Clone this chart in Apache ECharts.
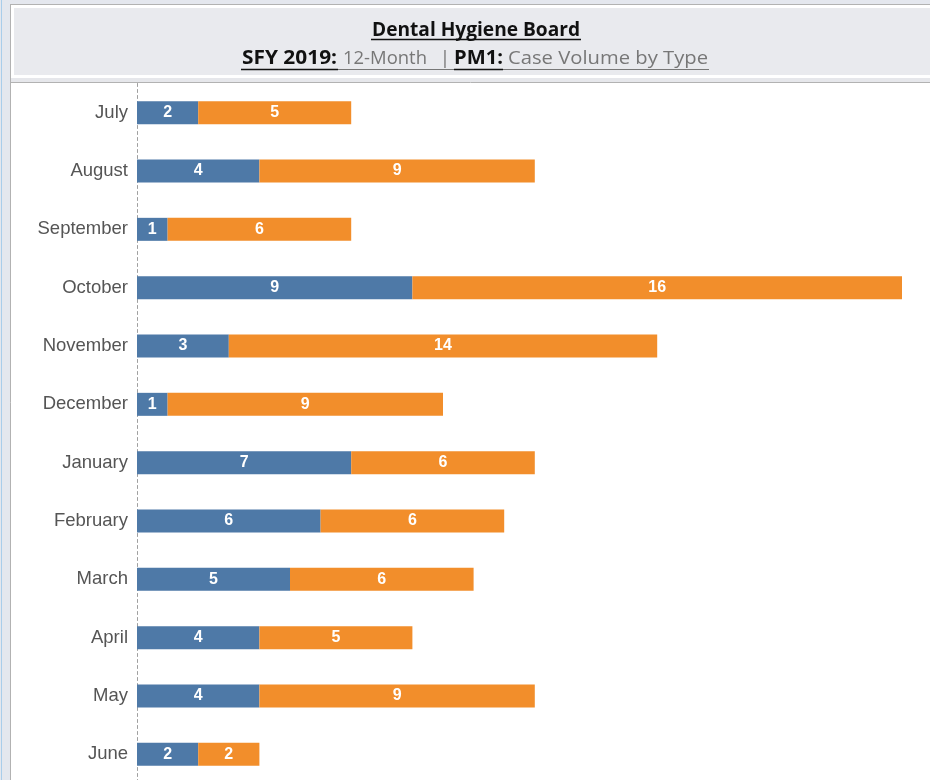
<!DOCTYPE html>
<html><head><meta charset="utf-8">
<script src="https://cdn.jsdelivr.net/npm/echarts@6/dist/echarts.min.js"></script>
<style>html,body{margin:0;padding:0;background:#fff;overflow:hidden}#c{width:930px;height:800px}</style>
</head><body><div id="c"></div>
<script>
const months = ['July','August','September','October','November','December','January','February','March','April','May','June'];
const typeA = [2,4,1,9,3,1,7,6,5,4,4,2];
const typeB = [5,9,6,16,14,9,6,6,6,5,9,2];
const titleText = 'Dental Hygiene Board';
const subParts = ['SFY 2019:', '12-Month', '|', 'PM1:', 'Case Volume by Type'];

const chart = echarts.init(document.getElementById('c'));
const cv = document.createElement('canvas').getContext('2d');
function w(txt, font){ cv.font = font; return cv.measureText(txt).width; }
const FAM = '"Open Sans", sans-serif';
const bFont = 'bold 19px ' + FAM, rFont = '19px ' + FAM;
const DESC = 4.5; // distance from baseline to text box bottom

const graphics = [
  {type:'rect', shape:{x:0,y:0,width:930,height:5}, style:{fill:'#e4e7ee'}, silent:true},
  {type:'rect', shape:{x:0,y:0,width:10,height:800}, style:{fill:'#e4e7ee'}, silent:true},
  {type:'line', shape:{x1:1.5,y1:0,x2:1.5,y2:800}, style:{stroke:'#a9cdea',lineWidth:1}, silent:true},
  {type:'line', shape:{x1:10.5,y1:4.5,x2:10.5,y2:800}, style:{stroke:'#b2b2b2',lineWidth:1}, silent:true},
  {type:'line', shape:{x1:10,y1:4.5,x2:930,y2:4.5}, style:{stroke:'#b2b2b2',lineWidth:1}, silent:true},
  {type:'rect', shape:{x:14,y:8,width:916,height:67}, style:{fill:'#e9eaee'}, silent:true},
  {type:'rect', shape:{x:11,y:78,width:919,height:4}, style:{fill:'#e6e7eb'}, silent:true},
  {type:'line', shape:{x1:11,y1:82.5,x2:930,y2:82.5}, style:{stroke:'#b2b2b2',lineWidth:1}, silent:true}
];
function fitText(txt, font, color, x, width, baseline){
  const m = w(txt, font);
  graphics.push({type:'text', x:x, y:baseline + DESC, scaleX: width/m,
    style:{text:txt, font:font, fill:color, textAlign:'left', textVerticalAlign:'bottom'}, silent:true});
}
function uline(x1, x2, y, color, lw){
  graphics.push({type:'line', shape:{x1:x1,y1:y,x2:x2,y2:y}, style:{stroke:color,lineWidth:lw}, silent:true});
}
fitText(titleText, bFont, '#111', 372, 208, 36);
uline(371, 581, 39.5, '#111', 1.5);

fitText(subParts[0], bFont, '#111', 242, 95, 64);
fitText(subParts[1], rFont, '#777', 343, 84, 64);
graphics.push({type:'text', x:445, y:64 + DESC, style:{text:subParts[2], font:rFont, fill:'#777', textAlign:'center', textVerticalAlign:'bottom'}, silent:true});
fitText(subParts[3], bFont, '#111', 454, 49, 64);
fitText(subParts[4], rFont, '#777', 508, 200, 64);
uline(241, 338, 69.5, '#111', 1.5);
uline(338, 454, 69.5, '#777', 1.2);
uline(454, 503, 69.5, '#111', 1.5);
uline(503, 709, 69.5, '#777', 1.2);

const lbl = {show:true, position:'inside', color:'#fff', fontWeight:'bold', fontSize:16, fontFamily:'"Liberation Sans", Arial, sans-serif'};
chart.setOption({
  animation:false,
  backgroundColor:'#fff',
  graphic: graphics,
  grid:{left:137, top:83.5, width:765, height:700, containLabel:false},
  xAxis:{type:'value', min:0, max:25, show:false},
  yAxis:{type:'category', data:months, inverse:true,
    axisLine:{show:true, lineStyle:{color:'#a0a0a0', type:[3,3], width:1}},
    axisTick:{show:false},
    axisLabel:{color:'#555', fontSize:18.5, fontFamily:'"Liberation Sans", Arial, sans-serif', margin:9},
    splitLine:{show:false}},
  series:[
    {type:'bar', stack:'s', data:typeA, barWidth:23, itemStyle:{color:'#4e79a7'}, label:lbl},
    {type:'bar', stack:'s', data:typeB, barWidth:23, itemStyle:{color:'#f28e2b'}, label:lbl}
  ]
});
</script></body></html>
